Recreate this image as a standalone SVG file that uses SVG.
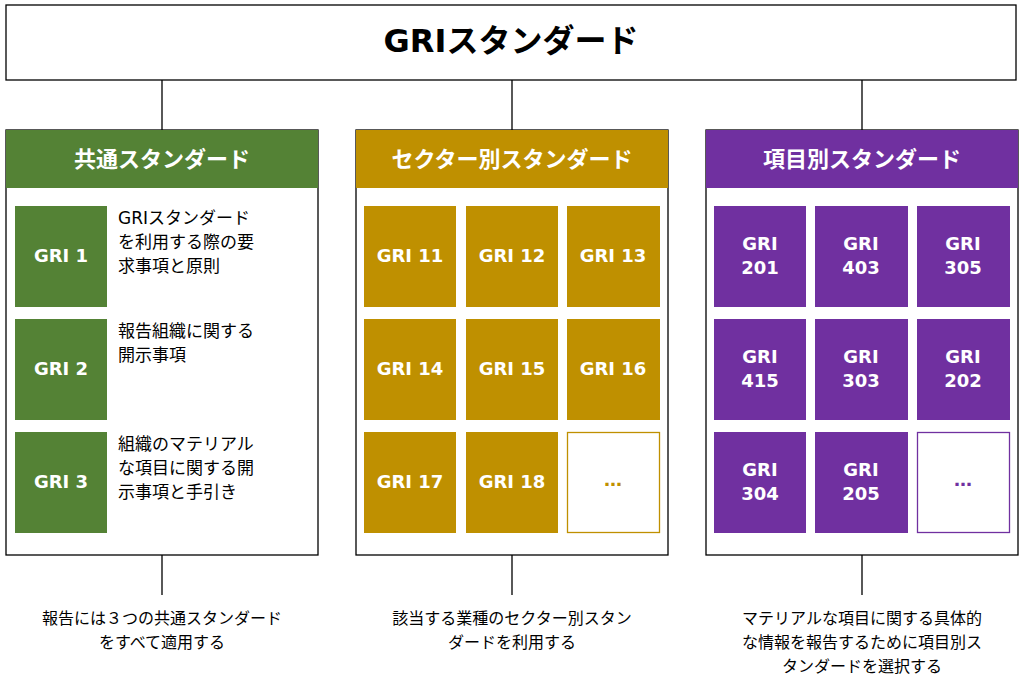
<svg xmlns="http://www.w3.org/2000/svg" width="1024" height="680" viewBox="0 0 1024 680">
<style>
text{font-family:"DejaVu Sans","Noto Sans CJK JP",sans-serif}
.t{font-weight:bold;fill:#fff;font-size:18px;text-anchor:middle}
.h{font-weight:bold;fill:#fff;font-size:22px;text-anchor:middle}
.d{font-size:17px;fill:#000}
.b{font-size:16px;fill:#000;text-anchor:middle}
.ln{stroke:#000;stroke-width:1.3;fill:none}
.pn{fill:#fff;stroke:#000;stroke-width:1.3}
.g{fill:#548235}.y{fill:#BF9000}.p{fill:#7030A0}
</style>
<g id="connectors">
<path class="ln" d="M162 80V130M512 80V130M862 80V130M162 555V595M512 555V595M862 555V595"/>
</g>
<g id="top"><rect class="pn" x="6" y="5" width="1010" height="75"/>
<text x="511" y="52" font-size="32" font-weight="bold" text-anchor="middle">GRIスタンダード</text></g>
<g id="common"><rect class="pn" x="6" y="130" width="312" height="425"/><rect class="g" x="6" y="130" width="312" height="58"/>
<text class="h" x="162" y="167">共通スタンダード</text></g>
<g id="gri1"><rect class="g" x="15" y="206" width="92" height="101"/><text class="t" x="61" y="262">GRI 1</text>
<text class="d" x="118" y="224">GRIスタンダード</text><text class="d" x="118" y="248">を利用する際の要</text><text class="d" x="118" y="272">求事項と原則</text></g>
<g id="gri2"><rect class="g" x="15" y="319" width="92" height="101"/><text class="t" x="61" y="375">GRI 2</text>
<text class="d" x="118" y="337">報告組織に関する</text><text class="d" x="118" y="361">開示事項</text></g>
<g id="gri3"><rect class="g" x="15" y="432" width="92" height="101"/><text class="t" x="61" y="488">GRI 3</text>
<text class="d" x="118" y="450">組織のマテリアル</text><text class="d" x="118" y="474">な項目に関する開</text><text class="d" x="118" y="498">示事項と手引き</text></g>
<g id="sector"><rect class="pn" x="356" y="130" width="312" height="425"/><rect class="y" x="356" y="130" width="312" height="58"/>
<text class="h" x="512" y="167">セクター別スタンダード</text>
<rect class="y" x="364" y="206" width="92" height="101"/><text class="t" x="410" y="262">GRI 11</text>
<rect class="y" x="466" y="206" width="92" height="101"/><text class="t" x="512" y="262">GRI 12</text>
<rect class="y" x="567" y="206" width="93" height="101"/><text class="t" x="613" y="262">GRI 13</text>
<rect class="y" x="364" y="319" width="92" height="101"/><text class="t" x="410" y="375">GRI 14</text>
<rect class="y" x="466" y="319" width="92" height="101"/><text class="t" x="512" y="375">GRI 15</text>
<rect class="y" x="567" y="319" width="93" height="101"/><text class="t" x="613" y="375">GRI 16</text>
<rect class="y" x="364" y="432" width="92" height="101"/><text class="t" x="410" y="488">GRI 17</text>
<rect class="y" x="466" y="432" width="92" height="101"/><text class="t" x="512" y="488">GRI 18</text>
<rect x="567.5" y="432.5" width="92" height="100" fill="#fff" stroke="#BF9000" stroke-width="1.3"/><text class="t" x="613" y="486" style="fill:#BF9000">…</text></g>
<g id="topic"><rect class="pn" x="706" y="130" width="312" height="425"/><rect class="p" x="706" y="130" width="312" height="58"/>
<text class="h" x="862" y="167">項目別スタンダード</text>
<rect class="p" x="714" y="206" width="92" height="101"/><text class="t" x="760" y="250">GRI</text><text class="t" x="760" y="274">201</text>
<rect class="p" x="815" y="206" width="93" height="101"/><text class="t" x="861" y="250">GRI</text><text class="t" x="861" y="274">403</text>
<rect class="p" x="917" y="206" width="93" height="101"/><text class="t" x="963" y="250">GRI</text><text class="t" x="963" y="274">305</text>
<rect class="p" x="714" y="319" width="92" height="101"/><text class="t" x="760" y="363">GRI</text><text class="t" x="760" y="387">415</text>
<rect class="p" x="815" y="319" width="93" height="101"/><text class="t" x="861" y="363">GRI</text><text class="t" x="861" y="387">303</text>
<rect class="p" x="917" y="319" width="93" height="101"/><text class="t" x="963" y="363">GRI</text><text class="t" x="963" y="387">202</text>
<rect class="p" x="714" y="432" width="92" height="101"/><text class="t" x="760" y="476">GRI</text><text class="t" x="760" y="500">304</text>
<rect class="p" x="815" y="432" width="93" height="101"/><text class="t" x="861" y="476">GRI</text><text class="t" x="861" y="500">205</text>
<rect x="917.5" y="432.5" width="92" height="100" fill="#fff" stroke="#7030A0" stroke-width="1.3"/><text class="t" x="963" y="486" style="fill:#7030A0">…</text></g>
<g id="notes">
<text class="b" x="162" y="624">報告には３つの共通スタンダード</text><text class="b" x="162" y="648">をすべて適用する</text>
<text class="b" x="512" y="624">該当する業種のセクター別スタン</text><text class="b" x="512" y="648">ダードを利用する</text>
<text class="b" x="862" y="624">マテリアルな項目に関する具体的</text><text class="b" x="862" y="648">な情報を報告するために項目別ス</text><text class="b" x="862" y="672">タンダードを選択する</text>
</g>
</svg>
